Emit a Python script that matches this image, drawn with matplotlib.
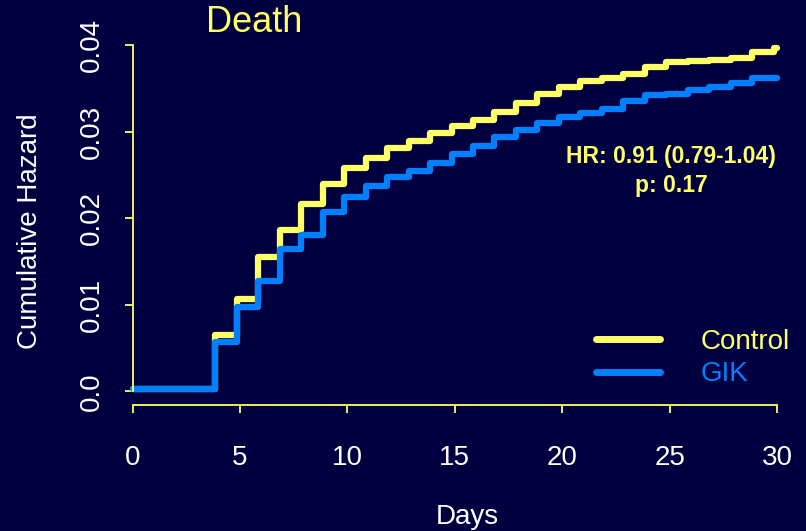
import numpy as np
import matplotlib
matplotlib.use('Agg')
import matplotlib.pyplot as plt

plt.rcParams['font.family'] = ['Liberation Sans', 'DejaVu Sans']

#%% data (step times in days, cumulative hazard after each step)
step_days = [0, 3.85, 4.85, 5.85, 6.85, 7.85, 8.85, 9.85, 10.85, 11.85, 12.85, 13.85,
             14.85, 15.85, 16.85, 17.85, 18.85, 19.85, 20.85, 21.85, 22.85, 23.85,
             24.85, 25.85, 26.85, 27.85, 28.85, 29.85, 30]
control = [0.0003, 0.0065, 0.0107, 0.0155, 0.0186, 0.0216, 0.0239, 0.0258, 0.0270, 0.0281,
           0.0289, 0.0298, 0.0306, 0.0314, 0.0323, 0.0333, 0.0343, 0.0352, 0.0358, 0.0362,
           0.0367, 0.0375, 0.0380, 0.0382, 0.0383, 0.0385, 0.0392, 0.0397, 0.0397]
gik = [0.0003, 0.0057, 0.0097, 0.0128, 0.0164, 0.0181, 0.0207, 0.0225, 0.0237, 0.0248,
       0.0255, 0.0264, 0.0274, 0.0283, 0.0294, 0.0302, 0.0310, 0.0317, 0.0321, 0.0326,
       0.0335, 0.0342, 0.0344, 0.0348, 0.0352, 0.0356, 0.0362, 0.0362, 0.0362]
x_ticks = [0, 5, 10, 15, 20, 25, 30]
y_ticks = [0.0, 0.01, 0.02, 0.03, 0.04]
y_ticklabels = ['0.0', '0.01', '0.02', '0.03', '0.04']

#%% colours
BG = '#000040'
YEL = '#ffff66'
BLUE = '#0080ff'

fig = plt.figure(figsize=(8.06, 5.31), dpi=100, facecolor=BG)
ax = fig.add_axes([0.1644, 0.2373, 0.7996, 0.7187], facecolor=BG)

ax.step(step_days, control, where='post', color=YEL, lw=4.5, label='Control',
        clip_on=False, solid_joinstyle='round', solid_capstyle='round')
ax.step(step_days, gik, where='post', color=BLUE, lw=4.5, label='GIK',
        clip_on=False, solid_joinstyle='round', solid_capstyle='round')

ax.set_xlim(0, 30)
ax.set_ylim(-0.00156, 0.0425)

# axes styling
for s in ['top', 'right']:
    ax.spines[s].set_visible(False)
for s in ['left', 'bottom']:
    ax.spines[s].set_color(YEL)
    ax.spines[s].set_linewidth(1.3)
ax.spines['left'].set_bounds(0, 0.04)
ax.spines['bottom'].set_bounds(0, 30)

ax.set_xticks(x_ticks)
ax.set_yticks(y_ticks)
ax.set_yticklabels(y_ticklabels, rotation=90, va='center')
ax.tick_params(axis='both', colors=YEL, labelcolor='white', labelsize=20,
               length=6, width=1.3, direction='out')
ax.tick_params(axis='x', pad=23)
ax.tick_params(axis='y', pad=14)
ax.xaxis.get_major_ticks()[0].tick1line.set_color('black')
ax.yaxis.get_major_ticks()[0].tick1line.set_color('black')

ax.set_ylabel('Cumulative Hazard', color='white', fontsize=20, va='center')
ax.yaxis.set_label_coords(-0.159, 0.456)
ax.set_xlabel('Days', color='white', fontsize=20, va='center')
ax.xaxis.set_label_coords(0.52, -0.293)

fig.text(206/806, 1 - 22/531, 'Death', color=YEL, fontsize=26, ha='left', va='center')

fig.text(671/806, 1 - 157/531, 'HR: 0.91 (0.79-1.04)', color=YEL, fontsize=16.5,
         fontweight='bold', ha='center', va='center')
fig.text(671/806, 1 - 185/531, 'p: 0.17', color=YEL, fontsize=16.5,
         fontweight='bold', ha='center', va='center')

leg = ax.legend(loc='center left', bbox_to_anchor=(596/806, 1 - 358/531),
                bbox_transform=fig.transFigure, frameon=False, fontsize=20,
                handlelength=2.3, handletextpad=1.45, labelspacing=0.25,
                borderpad=0, borderaxespad=0)
for txt, col in zip(leg.get_texts(), [YEL, BLUE]):
    txt.set_color(col)
for ln in leg.get_lines():
    ln.set_linewidth(5)

fig.savefig('out.png', dpi=100, facecolor=BG)
